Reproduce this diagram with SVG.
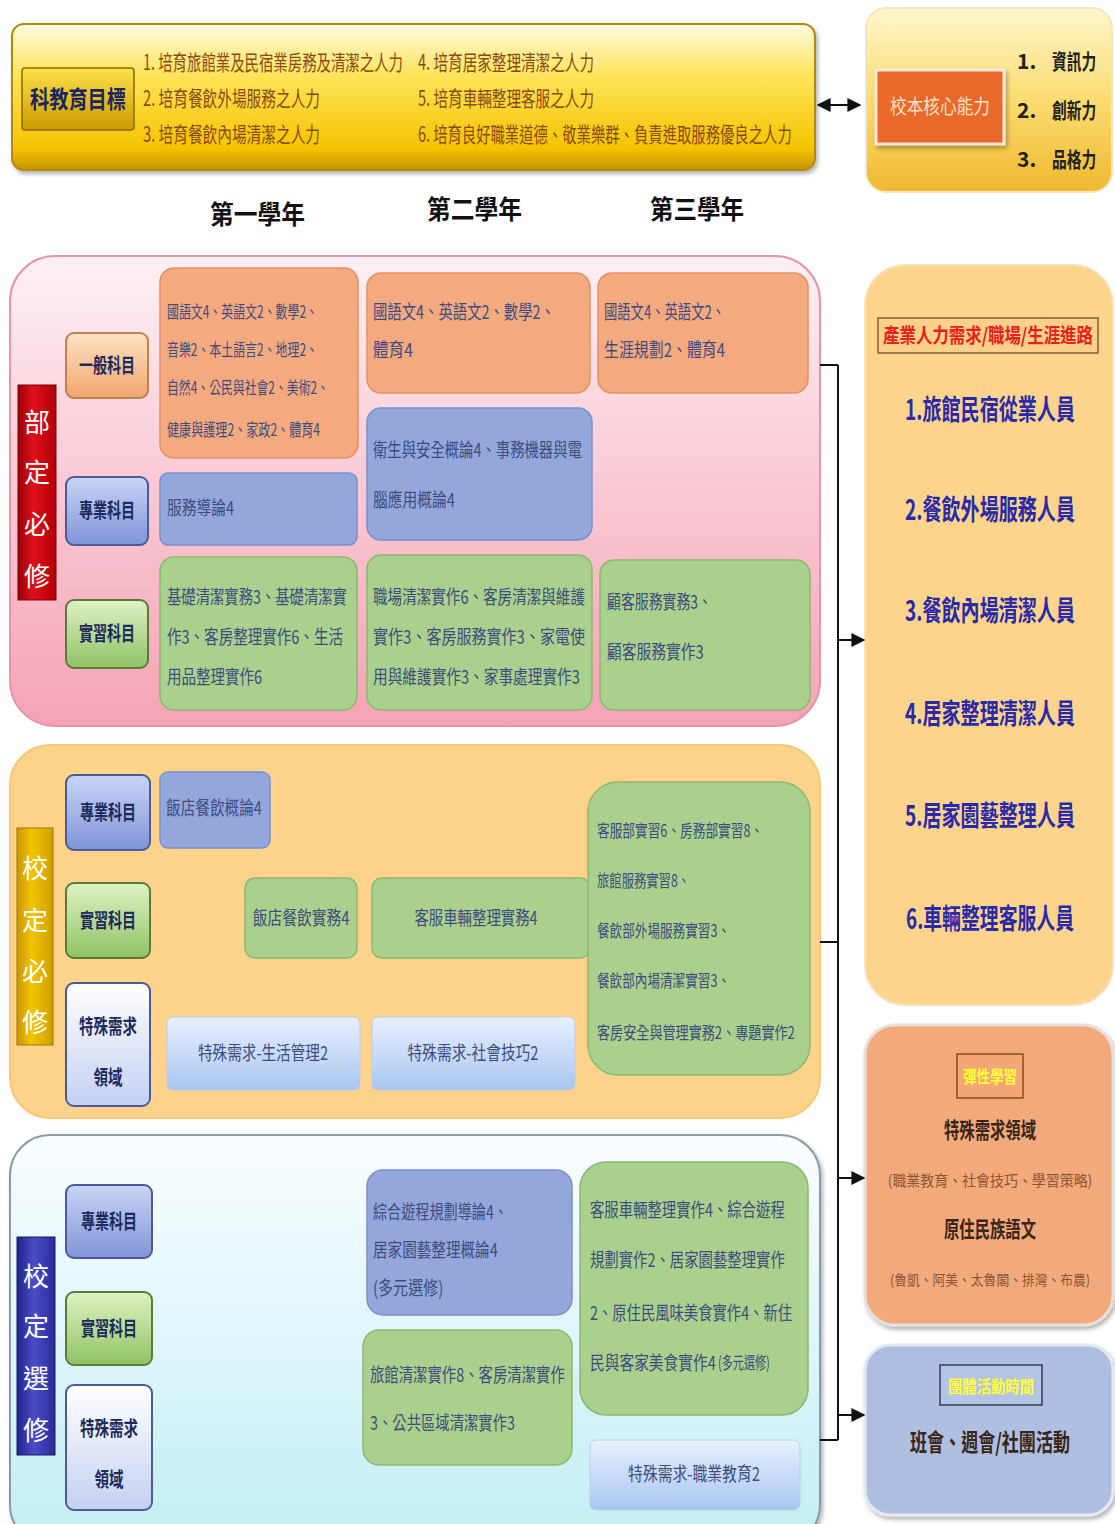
<svg xmlns="http://www.w3.org/2000/svg" width="1115" height="1524" viewBox="0 0 1115 1524">
<defs>
  <linearGradient id="gBanner" x1="0" y1="0" x2="0" y2="1">
    <stop offset="0" stop-color="#fffbe0"/><stop offset="0.35" stop-color="#ffe45a"/><stop offset="0.85" stop-color="#f5c400"/><stop offset="1" stop-color="#c89400"/>
  </linearGradient>
  <linearGradient id="gGold" x1="0" y1="0" x2="0" y2="1">
    <stop offset="0" stop-color="#ffe04a"/><stop offset="1" stop-color="#c99a00"/>
  </linearGradient>
  <linearGradient id="gCore" x1="0" y1="0" x2="0" y2="1">
    <stop offset="0" stop-color="#fff6cc"/><stop offset="0.5" stop-color="#fbdc70"/><stop offset="1" stop-color="#f0b830"/>
  </linearGradient>
  <linearGradient id="gPink" x1="0" y1="0" x2="0" y2="1">
    <stop offset="0" stop-color="#fdf0f4"/><stop offset="0.5" stop-color="#f9c8d3"/><stop offset="1" stop-color="#f5a3b4"/>
  </linearGradient>
  <linearGradient id="gCyan" x1="0" y1="0" x2="0" y2="1">
    <stop offset="0" stop-color="#fafdff"/><stop offset="1" stop-color="#c2eef4"/>
  </linearGradient>
  <linearGradient id="gLblOrange" x1="0" y1="0" x2="0" y2="1">
    <stop offset="0" stop-color="#fde3c4"/><stop offset="1" stop-color="#f2a56e"/>
  </linearGradient>
  <linearGradient id="gLblBlue" x1="0" y1="0" x2="0" y2="1">
    <stop offset="0" stop-color="#c9d5f6"/><stop offset="1" stop-color="#8094d6"/>
  </linearGradient>
  <linearGradient id="gLblGreen" x1="0" y1="0" x2="0" y2="1">
    <stop offset="0" stop-color="#e0f2c4"/><stop offset="1" stop-color="#8fc264"/>
  </linearGradient>
  <linearGradient id="gLblWhite" x1="0" y1="0" x2="0" y2="1">
    <stop offset="0" stop-color="#ffffff"/><stop offset="1" stop-color="#c4d0f2"/>
  </linearGradient>
  <linearGradient id="gSpecial" x1="0" y1="0" x2="0" y2="1">
    <stop offset="0" stop-color="#e8f0ff"/><stop offset="1" stop-color="#a9c6ef"/>
  </linearGradient>
  <linearGradient id="gRed" x1="0" y1="0" x2="1" y2="0">
    <stop offset="0" stop-color="#9a0008"/><stop offset="0.4" stop-color="#e01018"/><stop offset="1" stop-color="#b0000a"/>
  </linearGradient>
  <linearGradient id="gYellowV" x1="0" y1="0" x2="1" y2="0">
    <stop offset="0" stop-color="#c99600"/><stop offset="0.4" stop-color="#f2c400"/><stop offset="1" stop-color="#d0a000"/>
  </linearGradient>
  <linearGradient id="gNavy" x1="0" y1="0" x2="1" y2="0">
    <stop offset="0" stop-color="#22228a"/><stop offset="0.45" stop-color="#4a4ec8"/><stop offset="1" stop-color="#2a2a96"/>
  </linearGradient>
  <filter id="sh" x="-10%" y="-10%" width="120%" height="130%">
    <feDropShadow dx="2" dy="3" stdDeviation="2" flood-color="#000" flood-opacity="0.3"/>
  </filter>
  <marker id="arr" viewBox="0 0 10 10" refX="9" refY="5" markerWidth="7" markerHeight="7" orient="auto-start-reverse">
    <path d="M0,0 L10,5 L0,10 z" fill="#111"/>
  </marker>
  <style>
    .cjk{font-family:"Noto Sans CJK TC","Noto Sans CJK SC",sans-serif;}
    .goal{font-family:"Noto Sans CJK TC",sans-serif;font-size:21px;fill:#8a4a14;}
    .year{font-family:"Noto Sans CJK TC",sans-serif;font-size:26px;font-weight:bold;fill:#111;}
    .ct{font-family:"Noto Sans CJK TC",sans-serif;font-size:17px;fill:#3e4c7e;}
    .ctL{font-family:"Noto Sans CJK TC",sans-serif;font-size:19px;fill:#3e4c7e;}
    .lbl{font-family:"Noto Sans CJK TC",sans-serif;font-size:20px;font-weight:bold;fill:#1c2a5c;text-anchor:middle;}
    .vl{font-family:"Noto Sans CJK TC",sans-serif;font-size:26px;fill:#fff;text-anchor:middle;}
    .boxO{fill:#f4a97f;stroke:#e39068;stroke-width:1.5;}
    .boxB{fill:#93a7dc;stroke:#7b8fcb;stroke-width:1.5;}
    .boxG{fill:#a9d08c;stroke:#8db872;stroke-width:1.5;}
    .boxS{fill:url(#gSpecial);stroke:#b9cdea;stroke-width:1;}
    .job{font-family:"Noto Sans CJK TC",sans-serif;font-size:28px;font-weight:bold;fill:#2a2aa8;text-anchor:middle;}
    .dark{font-family:"Noto Sans CJK TC",sans-serif;font-weight:bold;fill:#3a2616;text-anchor:middle;}
    .conn{stroke:#111;stroke-width:2;fill:none;}
  </style>
</defs>

<rect width="1115" height="1524" fill="#ffffff"/>

<!-- Top banner -->
<g id="goals">
  <rect x="12" y="24" width="803" height="146" rx="12" fill="url(#gBanner)" stroke="#b08a10" stroke-width="2" filter="url(#sh)"/>
  <rect x="22" y="68" width="112" height="62" rx="3" fill="url(#gGold)" stroke="#8a6a00" stroke-width="1.5"/>
  <text transform="translate(78,108) scale(0.8,1)" class="cjk" font-size="24" font-weight="bold" fill="#1c2660" text-anchor="middle" textLength="120" lengthAdjust="spacingAndGlyphs">科教育目標</text>
  <text transform="translate(143,70) scale(0.684,1)" class="goal" textLength="380" lengthAdjust="spacingAndGlyphs">1. 培育旅館業及民宿業房務及清潔之人力</text>
  <text transform="translate(143,106) scale(0.697,1)" class="goal" textLength="254" lengthAdjust="spacingAndGlyphs">2. 培育餐飲外場服務之人力</text>
  <text transform="translate(143,142) scale(0.697,1)" class="goal" textLength="254" lengthAdjust="spacingAndGlyphs">3. 培育餐飲內場清潔之人力</text>
  <text transform="translate(418,70) scale(0.693,1)" class="goal" textLength="254" lengthAdjust="spacingAndGlyphs">4. 培育居家整理清潔之人力</text>
  <text transform="translate(418,106) scale(0.693,1)" class="goal" textLength="254" lengthAdjust="spacingAndGlyphs">5. 培育車輛整理客服之人力</text>
  <text transform="translate(418,142) scale(0.682,1)" class="goal" textLength="548" lengthAdjust="spacingAndGlyphs">6. 培育良好職業道德、敬業樂群、負責進取服務優良之人力</text>
</g>

<g id="core">
  <rect x="866" y="8" width="246" height="184" rx="20" fill="url(#gCore)" stroke="#f2e6c0" stroke-width="2"/>
  <rect x="876" y="70" width="128" height="74" fill="#e8692a" stroke="#fbe8d8" stroke-width="3" filter="url(#sh)"/>
  <text transform="translate(940,114) scale(0.833,1)" class="cjk" font-size="20" fill="#f8e2c4" text-anchor="middle" textLength="120" lengthAdjust="spacingAndGlyphs">校本核心能力</text>
  <text x="1017" y="69" class="cjk" font-size="21" font-weight="bold" fill="#222">1.</text>
  <text transform="translate(1052,69) scale(0.7,1)" class="cjk" font-size="21" font-weight="bold" fill="#222" textLength="63" lengthAdjust="spacingAndGlyphs">資訊力</text>
  <text x="1017" y="118" class="cjk" font-size="21" font-weight="bold" fill="#222">2.</text>
  <text transform="translate(1052,118) scale(0.7,1)" class="cjk" font-size="21" font-weight="bold" fill="#222" textLength="63" lengthAdjust="spacingAndGlyphs">創新力</text>
  <text x="1017" y="167" class="cjk" font-size="21" font-weight="bold" fill="#222">3.</text>
  <text transform="translate(1052,167) scale(0.7,1)" class="cjk" font-size="21" font-weight="bold" fill="#222" textLength="63" lengthAdjust="spacingAndGlyphs">品格力</text>
</g>

<!-- Year headers -->
<g id="years">
  <text transform="translate(210,224) scale(0.913,1)" class="year" textLength="104" lengthAdjust="spacingAndGlyphs">第一學年</text>
  <text transform="translate(427,219) scale(0.913,1)" class="year" textLength="104" lengthAdjust="spacingAndGlyphs">第二學年</text>
  <text transform="translate(650,219) scale(0.904,1)" class="year" textLength="104" lengthAdjust="spacingAndGlyphs">第三學年</text>
</g>

<!-- Section 1: 部定必修 -->
<g id="sec-required">
  <rect x="10" y="256" width="810" height="470" rx="45" fill="url(#gPink)" stroke="#e596ad" stroke-width="2"/>
  <rect x="18" y="385" width="38" height="215" fill="url(#gRed)" stroke="#7a0006" stroke-width="1"/>
  <text x="37" y="432" class="vl">部</text>
  <text x="37" y="482" class="vl">定</text>
  <text x="37" y="534" class="vl">必</text>
  <text x="37" y="586" class="vl">修</text>
</g>
<g id="s1-general-label">
  <rect x="66" y="333" width="82" height="65" rx="8" fill="url(#gLblOrange)" stroke="#c08050" stroke-width="2"/>
  <text transform="translate(107,373) scale(0.7,1)" class="lbl" textLength="80" lengthAdjust="spacingAndGlyphs">一般科目</text>
</g>
<g id="s1-pro-label">
  <rect x="66" y="477" width="82" height="68" rx="8" fill="url(#gLblBlue)" stroke="#4a5a9a" stroke-width="2"/>
  <text transform="translate(107,518) scale(0.7,1)" class="lbl" textLength="80" lengthAdjust="spacingAndGlyphs">專業科目</text>
</g>
<g id="s1-prac-label">
  <rect x="66" y="600" width="82" height="68" rx="8" fill="url(#gLblGreen)" stroke="#5a7a3a" stroke-width="2"/>
  <text transform="translate(107,641) scale(0.7,1)" class="lbl" textLength="80" lengthAdjust="spacingAndGlyphs">實習科目</text>
</g>
<g id="s1-gen-y1">
  <rect x="160" y="268" width="198" height="190" rx="14" class="boxO"/>
  <text transform="translate(167,318) scale(0.702,1)" class="ct" textLength="215" lengthAdjust="spacingAndGlyphs">國語文4、英語文2、數學2、</text>
  <text transform="translate(167,356) scale(0.702,1)" class="ct" textLength="215" lengthAdjust="spacingAndGlyphs">音樂2、本土語言2、地理2、</text>
  <text transform="translate(167,394) scale(0.698,1)" class="ct" textLength="232" lengthAdjust="spacingAndGlyphs">自然4、公民與社會2、美術2、</text>
  <text transform="translate(167,436) scale(0.712,1)" class="ct" textLength="215" lengthAdjust="spacingAndGlyphs">健康與護理2、家政2、體育4</text>
</g>
<g id="s1-gen-y2">
  <rect x="367" y="273" width="223" height="120" rx="14" class="boxO"/>
  <text transform="translate(373,319) scale(0.758,1)" class="ctL" textLength="240" lengthAdjust="spacingAndGlyphs">國語文4、英語文2、數學2、</text>
  <text transform="translate(373,357) scale(0.83,1)" class="ctL" textLength="48" lengthAdjust="spacingAndGlyphs">體育4</text>
</g>
<g id="s1-gen-y3">
  <rect x="598" y="273" width="210" height="120" rx="14" class="boxO"/>
  <text transform="translate(604,319) scale(0.70,1)" class="ctL" textLength="173" lengthAdjust="spacingAndGlyphs">國語文4、英語文2、</text>
  <text transform="translate(604,357) scale(0.786,1)" class="ctL" textLength="154" lengthAdjust="spacingAndGlyphs">生涯規劃2、體育4</text>
</g>
<g id="s1-pro-y1">
  <rect x="160" y="473" width="197" height="72" rx="8" class="boxB"/>
  <text transform="translate(167,515) scale(0.78,1)" class="ctL" textLength="86" lengthAdjust="spacingAndGlyphs">服務導論4</text>
</g>
<g id="s1-pro-y2">
  <rect x="367" y="408" width="225" height="132" rx="14" class="boxB"/>
  <text transform="translate(373,457) scale(0.757,1)" class="ctL" textLength="276" lengthAdjust="spacingAndGlyphs">衛生與安全概論4、事務機器與電</text>
  <text transform="translate(373,507) scale(0.78,1)" class="ctL" textLength="105" lengthAdjust="spacingAndGlyphs">腦應用概論4</text>
</g>
<g id="s1-prac-y1">
  <rect x="160" y="557" width="197" height="153" rx="14" class="boxG"/>
  <text transform="translate(167,604) scale(0.756,1)" class="ctL" textLength="238" lengthAdjust="spacingAndGlyphs">基礎清潔實務3、基礎清潔實</text>
  <text transform="translate(167,644) scale(0.765,1)" class="ctL" textLength="230" lengthAdjust="spacingAndGlyphs">作3、客房整理實作6、生活</text>
  <text transform="translate(167,684) scale(0.766,1)" class="ctL" textLength="124" lengthAdjust="spacingAndGlyphs">用品整理實作6</text>
</g>
<g id="s1-prac-y2">
  <rect x="367" y="555" width="225" height="155" rx="14" class="boxG"/>
  <text transform="translate(373,604) scale(0.768,1)" class="ctL" textLength="276" lengthAdjust="spacingAndGlyphs">職場清潔實作6、客房清潔與維護</text>
  <text transform="translate(373,644) scale(0.791,1)" class="ctL" textLength="268" lengthAdjust="spacingAndGlyphs">實作3、客房服務實作3、家電使</text>
  <text transform="translate(373,684) scale(0.772,1)" class="ctL" textLength="268" lengthAdjust="spacingAndGlyphs">用與維護實作3、家事處理實作3</text>
</g>
<g id="s1-prac-y3">
  <rect x="600" y="560" width="210" height="150" rx="14" class="boxG"/>
  <text transform="translate(607,609) scale(0.734,1)" class="ctL" textLength="143" lengthAdjust="spacingAndGlyphs">顧客服務實務3、</text>
  <text transform="translate(607,659) scale(0.78,1)" class="ctL" textLength="124" lengthAdjust="spacingAndGlyphs">顧客服務實作3</text>
</g>

<!-- Section 2: 校定必修 -->
<g id="sec-school-required">
  <rect x="10" y="745" width="810" height="373" rx="40" fill="#fdd38c" stroke="#f7c775" stroke-width="2"/>
  <rect x="17" y="828" width="36" height="217" fill="url(#gYellowV)" stroke="#a07800" stroke-width="1"/>
  <text x="35" y="878" class="vl" fill="#fff6d0">校</text>
  <text x="35" y="930" class="vl" fill="#fff6d0">定</text>
  <text x="35" y="981" class="vl" fill="#fff6d0">必</text>
  <text x="35" y="1032" class="vl" fill="#fff6d0">修</text>
</g>
<g id="s2-pro-label">
  <rect x="66" y="775" width="84" height="75" rx="8" fill="url(#gLblBlue)" stroke="#4a5a9a" stroke-width="2"/>
  <text transform="translate(108,820) scale(0.7,1)" class="lbl" textLength="80" lengthAdjust="spacingAndGlyphs">專業科目</text>
</g>
<g id="s2-prac-label">
  <rect x="66" y="883" width="84" height="75" rx="8" fill="url(#gLblGreen)" stroke="#5a7a3a" stroke-width="2"/>
  <text transform="translate(108,928) scale(0.7,1)" class="lbl" textLength="80" lengthAdjust="spacingAndGlyphs">實習科目</text>
</g>
<g id="s2-special-label">
  <rect x="66" y="983" width="84" height="123" rx="8" fill="url(#gLblWhite)" stroke="#4a5a9a" stroke-width="2"/>
  <text transform="translate(108,1034) scale(0.725,1)" class="lbl" textLength="80" lengthAdjust="spacingAndGlyphs">特殊需求</text>
  <text transform="translate(108,1085) scale(0.725,1)" class="lbl" textLength="40" lengthAdjust="spacingAndGlyphs">領域</text>
</g>
<g id="s2-pro-y1">
  <rect x="160" y="772" width="110" height="76" rx="8" class="boxB"/>
  <text transform="translate(166,815) scale(0.774,1)" class="ctL" textLength="124" lengthAdjust="spacingAndGlyphs">飯店餐飲概論4</text>
</g>
<g id="s2-prac-y1">
  <rect x="245" y="878" width="112" height="80" rx="10" class="boxG"/>
  <text transform="translate(301,925) scale(0.78,1)" class="ctL" text-anchor="middle" textLength="124" lengthAdjust="spacingAndGlyphs">飯店餐飲實務4</text>
</g>
<g id="s2-prac-y2">
  <rect x="372" y="878" width="218" height="80" rx="10" class="boxG"/>
  <text transform="translate(476,925) scale(0.76,1)" class="ctL" text-anchor="middle" textLength="162" lengthAdjust="spacingAndGlyphs">客服車輛整理實務4</text>
</g>
<g id="s2-special-y1">
  <rect x="167" y="1017" width="193" height="73" rx="6" class="boxS"/>
  <text transform="translate(263,1060) scale(0.77,1)" class="ctL" text-anchor="middle" textLength="169" lengthAdjust="spacingAndGlyphs">特殊需求-生活管理2</text>
</g>
<g id="s2-special-y2">
  <rect x="372" y="1017" width="203" height="73" rx="6" class="boxS"/>
  <text transform="translate(473,1060) scale(0.775,1)" class="ctL" text-anchor="middle" textLength="169" lengthAdjust="spacingAndGlyphs">特殊需求-社會技巧2</text>
</g>
<g id="s2-prac-y3">
  <rect x="588" y="782" width="222" height="293" rx="30" class="boxG"/>
  <text transform="translate(597,837) scale(0.745,1)" class="ct" textLength="223" lengthAdjust="spacingAndGlyphs">客服部實習6、房務部實習8、</text>
  <text transform="translate(597,887) scale(0.727,1)" class="ct" textLength="128" lengthAdjust="spacingAndGlyphs">旅館服務實習8、</text>
  <text transform="translate(597,937) scale(0.743,1)" class="ct" textLength="179" lengthAdjust="spacingAndGlyphs">餐飲部外場服務實習3、</text>
  <text transform="translate(597,987) scale(0.743,1)" class="ct" textLength="179" lengthAdjust="spacingAndGlyphs">餐飲部內場清潔實習3、</text>
  <text transform="translate(597,1039) scale(0.77,1)" class="ct" textLength="257" lengthAdjust="spacingAndGlyphs">客房安全與管理實務2、專題實作2</text>
</g>

<!-- Section 3: 校定選修 -->
<g id="sec-elective">
  <rect x="10" y="1135" width="810" height="410" rx="40" fill="url(#gCyan)" stroke="#8a9aa8" stroke-width="2" filter="url(#sh)"/>
  <rect x="17" y="1237" width="38" height="218" fill="url(#gNavy)" stroke="#1a1a6a" stroke-width="1"/>
  <text x="36" y="1286" class="vl" fill="#e8ecff">校</text>
  <text x="36" y="1336" class="vl" fill="#e8ecff">定</text>
  <text x="36" y="1388" class="vl" fill="#e8ecff">選</text>
  <text x="36" y="1440" class="vl" fill="#e8ecff">修</text>
</g>
<g id="s3-pro-label">
  <rect x="66" y="1185" width="86" height="73" rx="8" fill="url(#gLblBlue)" stroke="#4a5a9a" stroke-width="2"/>
  <text transform="translate(109,1229) scale(0.7,1)" class="lbl" textLength="80" lengthAdjust="spacingAndGlyphs">專業科目</text>
</g>
<g id="s3-prac-label">
  <rect x="66" y="1292" width="86" height="73" rx="8" fill="url(#gLblGreen)" stroke="#5a7a3a" stroke-width="2"/>
  <text transform="translate(109,1336) scale(0.7,1)" class="lbl" textLength="80" lengthAdjust="spacingAndGlyphs">實習科目</text>
</g>
<g id="s3-special-label">
  <rect x="66" y="1385" width="86" height="125" rx="8" fill="url(#gLblWhite)" stroke="#4a5a9a" stroke-width="2"/>
  <text transform="translate(109,1436) scale(0.725,1)" class="lbl" textLength="80" lengthAdjust="spacingAndGlyphs">特殊需求</text>
  <text transform="translate(109,1487) scale(0.725,1)" class="lbl" textLength="40" lengthAdjust="spacingAndGlyphs">領域</text>
</g>
<g id="s3-pro-y2">
  <rect x="367" y="1170" width="205" height="145" rx="16" class="boxB"/>
  <text transform="translate(373,1219) scale(0.745,1)" class="ctL" textLength="181" lengthAdjust="spacingAndGlyphs">綜合遊程規劃導論4、</text>
  <text transform="translate(373,1257) scale(0.77,1)" class="ctL" textLength="162" lengthAdjust="spacingAndGlyphs">居家園藝整理概論4</text>
  <text transform="translate(373,1295) scale(0.79,1)" class="ctL" textLength="89" lengthAdjust="spacingAndGlyphs">(多元選修)</text>
</g>
<g id="s3-prac-y2">
  <rect x="363" y="1330" width="209" height="135" rx="16" class="boxG"/>
  <text transform="translate(370,1382) scale(0.758,1)" class="ctL" textLength="257" lengthAdjust="spacingAndGlyphs">旅館清潔實作8、客房清潔實作</text>
  <text transform="translate(370,1430) scale(0.755,1)" class="ctL" textLength="192" lengthAdjust="spacingAndGlyphs">3、公共區域清潔實作3</text>
</g>
<g id="s3-prac-y3">
  <rect x="580" y="1162" width="228" height="253" rx="26" class="boxG"/>
  <text transform="translate(590,1217) scale(0.758,1)" class="ctL" textLength="257" lengthAdjust="spacingAndGlyphs">客服車輛整理實作4、綜合遊程</text>
  <text transform="translate(590,1267) scale(0.758,1)" class="ctL" textLength="257" lengthAdjust="spacingAndGlyphs">規劃實作2、居家園藝整理實作</text>
  <text transform="translate(590,1320) scale(0.754,1)" class="ctL" textLength="268" lengthAdjust="spacingAndGlyphs">2、原住民風味美食實作4、新住</text>
  <text transform="translate(590,1370) scale(0.777,1)" class="ctL" textLength="162" lengthAdjust="spacingAndGlyphs">民與客家美食實作4</text>
  <text transform="translate(718,1369) scale(0.85,1)" class="ct" font-size="13" textLength="61" lengthAdjust="spacingAndGlyphs">(多元選修)</text>
</g>
<g id="s3-special-y3">
  <rect x="590" y="1440" width="210" height="70" rx="6" class="boxS"/>
  <text transform="translate(694,1481) scale(0.78,1)" class="ctL" text-anchor="middle" textLength="169" lengthAdjust="spacingAndGlyphs">特殊需求-職業教育2</text>
</g>

<!-- Right column -->
<g id="careers">
  <rect x="865" y="265" width="248" height="740" rx="40" fill="#fdd48c" stroke="#f6e2b8" stroke-width="2"/>
  <rect x="878" y="318" width="220" height="35" fill="#fbd08a" stroke="#8a5a30" stroke-width="1.5"/>
  <text transform="translate(988,343) scale(0.82,1)" class="cjk" font-size="20" font-weight="bold" fill="#e8201c" text-anchor="middle" textLength="256" lengthAdjust="spacingAndGlyphs">產業人力需求/職場/生涯進路</text>
  <text transform="translate(990,420) scale(0.688,1)" class="job" textLength="247" lengthAdjust="spacingAndGlyphs">1.旅館民宿從業人員</text>
  <text transform="translate(990,520) scale(0.688,1)" class="job" textLength="247" lengthAdjust="spacingAndGlyphs">2.餐飲外場服務人員</text>
  <text transform="translate(990,621) scale(0.688,1)" class="job" textLength="247" lengthAdjust="spacingAndGlyphs">3.餐飲內場清潔人員</text>
  <text transform="translate(990,724) scale(0.688,1)" class="job" textLength="247" lengthAdjust="spacingAndGlyphs">4.居家整理清潔人員</text>
  <text transform="translate(990,826) scale(0.688,1)" class="job" textLength="247" lengthAdjust="spacingAndGlyphs">5.居家園藝整理人員</text>
  <text transform="translate(990,929) scale(0.68,1)" class="job" textLength="247" lengthAdjust="spacingAndGlyphs">6.車輛整理客服人員</text>
</g>
<g id="flexible">
  <rect x="865" y="1025" width="248" height="300" rx="30" fill="#f2a97b" stroke="#e8e0d8" stroke-width="3" filter="url(#sh)"/>
  <rect x="957" y="1054" width="66" height="44" fill="#f3a676" stroke="#8a4a20" stroke-width="1.5"/>
  <text transform="translate(990,1083) scale(0.794,1)" class="cjk" font-size="17" font-weight="bold" fill="#ffff33" text-anchor="middle" textLength="68" lengthAdjust="spacingAndGlyphs">彈性學習</text>
  <text transform="translate(990,1138) scale(0.697,1)" class="dark" font-size="22" textLength="132" lengthAdjust="spacingAndGlyphs">特殊需求領域</text>
  <text transform="translate(990,1186) scale(0.93,1)" class="cjk" font-size="15" fill="#8a5636" text-anchor="middle" textLength="220" lengthAdjust="spacingAndGlyphs">(職業教育、社會技巧、學習策略)</text>
  <text transform="translate(990,1237) scale(0.697,1)" class="dark" font-size="22" textLength="132" lengthAdjust="spacingAndGlyphs">原住民族語文</text>
  <text transform="translate(990,1285) scale(0.91,1)" class="cjk" font-size="14" fill="#8a5636" text-anchor="middle" textLength="220" lengthAdjust="spacingAndGlyphs">(魯凱、阿美、太魯閣、排灣、布農)</text>
</g>
<g id="group-activity">
  <rect x="865" y="1345" width="248" height="170" rx="25" fill="#aebfe2" stroke="#e4e8f0" stroke-width="3" filter="url(#sh)"/>
  <rect x="940" y="1365" width="102" height="40" fill="#b4c4e4" stroke="#3a3a5a" stroke-width="1.5"/>
  <text transform="translate(991,1393) scale(0.843,1)" class="cjk" font-size="17" font-weight="bold" fill="#ffff33" text-anchor="middle" textLength="102" lengthAdjust="spacingAndGlyphs">團體活動時間</text>
  <text transform="translate(990,1451) scale(0.708,1)" class="dark" font-size="24" fill="#1c1a36" textLength="226" lengthAdjust="spacingAndGlyphs">班會、週會/社團活動</text>
</g>

<!-- Connectors -->
<g id="connectors">
  <line x1="818" y1="105" x2="860" y2="105" class="conn" marker-start="url(#arr)" marker-end="url(#arr)"/>
  <line x1="838" y1="365" x2="838" y2="1440" class="conn"/>
  <line x1="820" y1="365" x2="838" y2="365" class="conn"/>
  <line x1="820" y1="942" x2="838" y2="942" class="conn"/>
  <line x1="820" y1="1440" x2="838" y2="1440" class="conn"/>
  <line x1="838" y1="640" x2="864" y2="640" class="conn" marker-end="url(#arr)"/>
  <line x1="838" y1="1178" x2="864" y2="1178" class="conn" marker-end="url(#arr)"/>
  <line x1="838" y1="1415" x2="864" y2="1415" class="conn" marker-end="url(#arr)"/>
</g>
</svg>
